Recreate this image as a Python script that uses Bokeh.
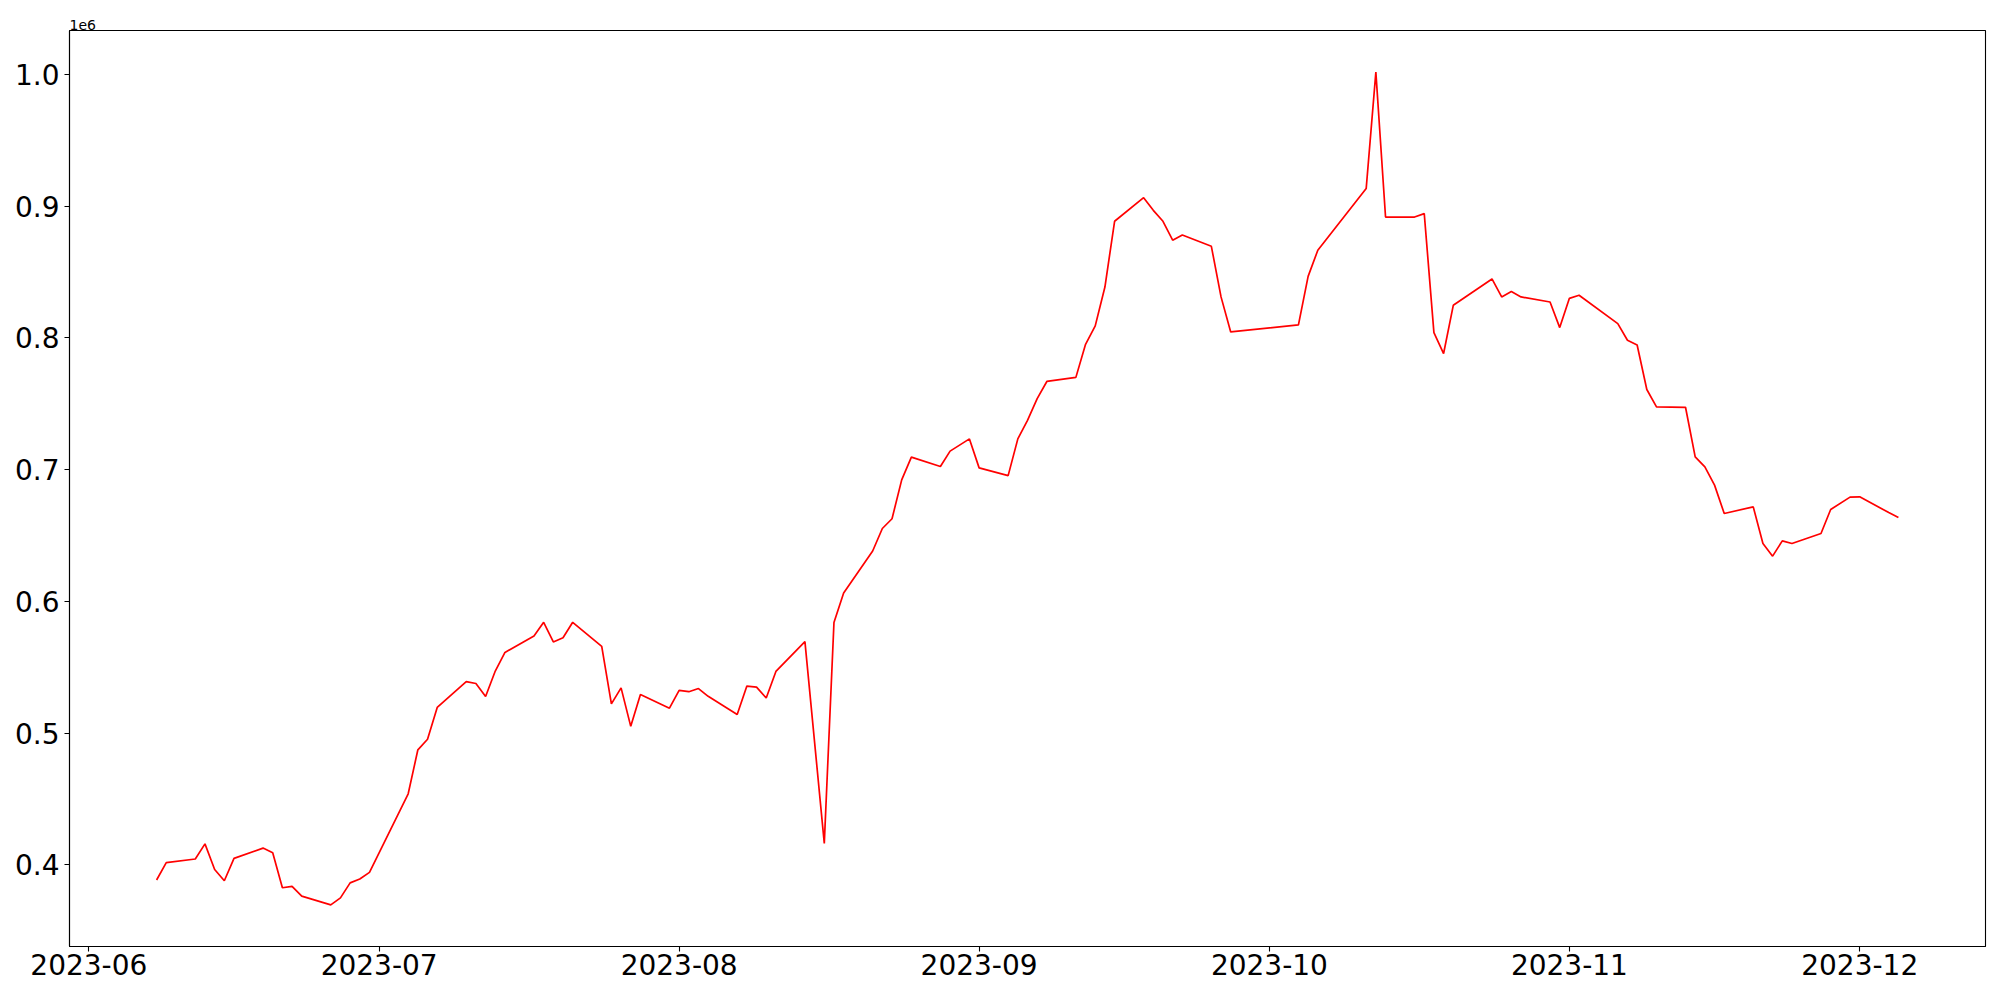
import pandas as pd
from bokeh.plotting import figure
from bokeh.models import (Range1d, FixedTicker, DatetimeTickFormatter,
                          CustomJSTickFormatter, Title)
from bokeh.embed import file_html
from bokeh.resources import INLINE

# ---- data ----
dates = [
    "2023-06-08", "2023-06-09", "2023-06-12", "2023-06-13", "2023-06-14", "2023-06-15",
    "2023-06-16", "2023-06-19", "2023-06-20", "2023-06-21", "2023-06-22", "2023-06-23",
    "2023-06-26", "2023-06-27", "2023-06-28", "2023-06-29", "2023-06-30", "2023-07-04",
    "2023-07-05", "2023-07-06", "2023-07-07", "2023-07-10", "2023-07-11", "2023-07-12",
    "2023-07-13", "2023-07-14", "2023-07-17", "2023-07-18", "2023-07-19", "2023-07-20",
    "2023-07-21", "2023-07-24", "2023-07-25", "2023-07-26", "2023-07-27", "2023-07-28",
    "2023-07-31", "2023-08-01", "2023-08-02", "2023-08-03", "2023-08-04", "2023-08-07",
    "2023-08-08", "2023-08-09", "2023-08-10", "2023-08-11", "2023-08-14", "2023-08-16",
    "2023-08-17", "2023-08-18", "2023-08-21", "2023-08-22", "2023-08-23", "2023-08-24",
    "2023-08-25", "2023-08-28", "2023-08-29", "2023-08-31", "2023-09-01", "2023-09-04",
    "2023-09-05", "2023-09-06", "2023-09-07", "2023-09-08", "2023-09-11", "2023-09-12",
    "2023-09-13", "2023-09-14", "2023-09-15", "2023-09-18", "2023-09-19", "2023-09-20",
    "2023-09-21", "2023-09-22", "2023-09-25", "2023-09-26", "2023-09-27", "2023-10-04",
    "2023-10-05", "2023-10-06", "2023-10-11", "2023-10-12", "2023-10-13", "2023-10-16",
    "2023-10-17", "2023-10-18", "2023-10-19", "2023-10-20", "2023-10-24", "2023-10-25",
    "2023-10-26", "2023-10-27", "2023-10-30", "2023-10-31", "2023-11-01", "2023-11-02",
    "2023-11-06", "2023-11-07", "2023-11-08", "2023-11-09", "2023-11-10", "2023-11-13",
    "2023-11-14", "2023-11-15", "2023-11-16", "2023-11-17", "2023-11-20", "2023-11-21",
    "2023-11-22", "2023-11-23", "2023-11-24", "2023-11-27", "2023-11-28", "2023-11-30",
    "2023-12-01", "2023-12-04", "2023-12-05",
]

values = [
    388500, 401700, 404400, 415900, 396400, 387900,
    404900, 412700, 409200, 382600, 383700, 376200,
    369600, 374900, 386300, 389200, 394300, 453900,
    487300, 495300, 519500, 539100, 537600, 527800,
    547100, 561200, 573700, 584100, 569200, 572400,
    584100, 565800, 522200, 534300, 505100, 529300,
    518900, 532400, 531400, 533800, 527900, 514100,
    535700, 534900, 526600, 546800, 569400, 416300,
    584000, 606400, 638200, 655300, 662700, 692200,
    709500, 702300, 714000, 723300, 701300, 695400,
    723300, 737400, 753900, 766900, 770000, 795100,
    809100, 838600, 888500, 906400, 896800, 888500,
    874100, 878100, 869500, 831100, 804500, 809900,
    846700, 866500, 913300, 1001700, 891700, 891700,
    894300, 804000, 788100, 824700, 844700, 831100,
    835100, 831100, 827200, 807800, 830000, 832300,
    810800, 798200, 794600, 760800, 747600, 747300,
    709600, 702100, 688200, 666700, 671700, 643900,
    634300, 645900, 643900, 651500, 669700, 679100,
    679300, 667400, 663600,
]

month_ticks = ["2023-06-01", "2023-07-01", "2023-08-01", "2023-09-01",
               "2023-10-01", "2023-11-01", "2023-12-01"]
y_ticks = [400000, 500000, 600000, 700000, 800000, 900000, 1000000]

# ---- build ----
x = pd.to_datetime(dates)
xmin, xmax = x.min(), x.max()
xpad = (xmax - xmin) * 0.05
ymin, ymax = min(values), max(values)
ypad = (ymax - ymin) * 0.05

FONT = "DejaVu Sans"

p = figure(width=1992, height=992, x_axis_type="datetime",
           output_backend="svg", toolbar_location=None,
           x_range=Range1d(xmin - xpad, xmax + xpad),
           y_range=Range1d(ymin - ypad, ymax + ypad),
           min_border_left=69, min_border_right=7,
           min_border_top=30, min_border_bottom=46)

p.line(x, values, line_color="red", line_width=1.7)

p.xgrid.visible = False
p.ygrid.visible = False
p.background_fill_color = "white"
p.border_fill_color = "white"
p.outline_line_color = "black"
p.outline_line_width = 1.1
p.outline_line_alpha = 1.0

tick_ms = [pd.Timestamp(t).timestamp() * 1000 for t in month_ticks]
p.xaxis.ticker = FixedTicker(ticks=tick_ms)
fmt = "%Y-%m"
p.xaxis.formatter = DatetimeTickFormatter(
    milliseconds=fmt, seconds=fmt, minsec=fmt, minutes=fmt, hourmin=fmt,
    hours=fmt, days=fmt, months=fmt, years=fmt)

p.yaxis.ticker = FixedTicker(ticks=y_ticks)
p.yaxis.formatter = CustomJSTickFormatter(code="return (tick/1e6).toFixed(1);")

for ax in (p.xaxis, p.yaxis):
    ax.major_label_text_font = FONT
    ax.major_label_text_font_size = "28px"
    ax.major_label_text_color = "black"
    ax.axis_line_color = "black"
    ax.axis_line_width = 1.1
    ax.major_tick_line_color = "black"
    ax.major_tick_line_width = 1.1
    ax.major_tick_out = 5
    ax.major_tick_in = 0
    ax.minor_tick_line_color = None

p.xaxis.major_label_standoff = 2
p.yaxis.major_label_standoff = 5

p.add_layout(Title(text="1e6", align="left", text_font=FONT,
                   text_font_size="14px", text_font_style="normal",
                   text_color="black", standoff=1), "above")

open("out.html", "w").write(file_html(p, INLINE))
